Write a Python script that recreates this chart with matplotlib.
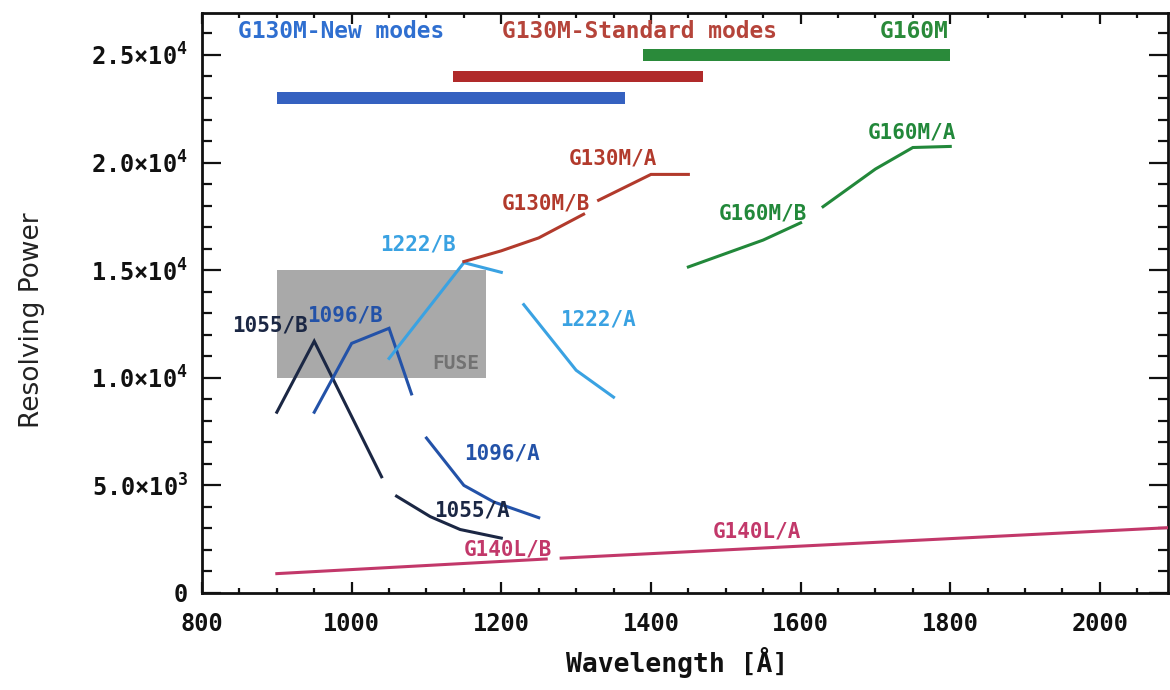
import matplotlib
matplotlib.use("Agg")
import matplotlib.pyplot as plt
from matplotlib.patches import Rectangle
from matplotlib.ticker import MultipleLocator, FuncFormatter

plt.rcParams["mathtext.default"] = "regular"

# Wavelength coverage of the grating families (Angstrom) and the level of each bar
coverage_names = ["G130M-New modes", "G130M-Standard modes", "G160M"]
coverage_start = [900, 1135, 1390]
coverage_end = [1365, 1470, 1800]
coverage_level = [23000, 24000, 25000]

# FUSE reference region
fuse_wl = [900, 1180]
fuse_r = [10000, 15000]

# Resolving power of each central-wavelength setting / segment
wl_1055_b = [900, 950, 1040]
r_1055_b = [8400, 11700, 5400]
wl_1055_a = [1060, 1105, 1145, 1200]
r_1055_a = [4500, 3550, 2950, 2550]
wl_1096_b = [950, 1000, 1050, 1080]
r_1096_b = [8400, 11600, 12300, 9250]
wl_1096_a = [1100, 1150, 1190, 1250]
r_1096_a = [7200, 5000, 4230, 3500]
wl_1222_b = [1050, 1150, 1200]
r_1222_b = [10900, 15350, 14900]
wl_1222_a = [1230, 1300, 1350]
r_1222_a = [13400, 10350, 9100]
wl_g130m_b = [1150, 1200, 1250, 1310]
r_g130m_b = [15400, 15900, 16500, 17600]
wl_g130m_a = [1330, 1400, 1450]
r_g130m_a = [18250, 19450, 19450]
wl_g160m_b = [1450, 1550, 1600]
r_g160m_b = [15150, 16400, 17200]
wl_g160m_a = [1630, 1700, 1750, 1800]
r_g160m_a = [17950, 19700, 20700, 20750]
wl_g140l_b = [900, 1260]
r_g140l_b = [900, 1580]
wl_g140l_a = [1280, 2100]
r_g140l_a = [1620, 3050]

C_NAVY = "#1b2744"
C_BLUE = "#2352a8"
C_LIGHT = "#3aa2e2"
C_RED = "#b23a2c"
C_GREEN = "#22883a"
C_PINK = "#c2386a"

MONO = "DejaVu Sans Mono"

fig = plt.figure(figsize=(11.7, 6.9), dpi=100)
ax = fig.add_axes([202 / 1170, 1 - 593 / 690, (1168 - 202) / 1170, (593 - 13) / 690])

# grating coverage bars
bar_colors = ["#3561c0", "#b02a2a", "#2a8a3a"]
text_colors = ["#2f6fd0", "#b5443a", "#2a8a3a"]
for start, end, level, col in zip(coverage_start, coverage_end, coverage_level, bar_colors):
    ax.barh(level, end - start, left=start, height=540, color=col, zorder=2)
ax.text(848, 26100, coverage_names[0], color=text_colors[0], fontsize=16.5,
        fontweight="bold", family=MONO, ha="left", va="center")
ax.text(1201, 26100, coverage_names[1], color=text_colors[1], fontsize=16.5,
        fontweight="bold", family=MONO, ha="left", va="center")
ax.text(1797, 26100, coverage_names[2], color=text_colors[2], fontsize=16.5,
        fontweight="bold", family=MONO, ha="right", va="center")

# FUSE box
ax.add_patch(Rectangle((fuse_wl[0], fuse_r[0]), fuse_wl[1] - fuse_wl[0],
                       fuse_r[1] - fuse_r[0], facecolor="#a9a9a9",
                       edgecolor="none", zorder=1))
ax.text(1170, 10650, "FUSE", color="#727272", fontsize=14, fontweight="bold",
        family=MONO, ha="right", va="center", zorder=2)

lw = 2.2
curves = [
    (wl_1055_b, r_1055_b, C_NAVY), (wl_1055_a, r_1055_a, C_NAVY),
    (wl_1096_b, r_1096_b, C_BLUE), (wl_1096_a, r_1096_a, C_BLUE),
    (wl_1222_b, r_1222_b, C_LIGHT), (wl_1222_a, r_1222_a, C_LIGHT),
    (wl_g130m_b, r_g130m_b, C_RED), (wl_g130m_a, r_g130m_a, C_RED),
    (wl_g160m_b, r_g160m_b, C_GREEN), (wl_g160m_a, r_g160m_a, C_GREEN),
    (wl_g140l_b, r_g140l_b, C_PINK), (wl_g140l_a, r_g140l_a, C_PINK),
]
for wl, r, col in curves:
    ax.plot(wl, r, color=col, lw=lw, solid_joinstyle="miter", zorder=3)

labels = [
    ("1222/B", 1089, 16170, C_LIGHT),
    ("G130M/A", 1349, 20200, C_RED),
    ("G130M/B", 1260, 18100, C_RED),
    ("G160M/A", 1749, 21400, C_GREEN),
    ("G160M/B", 1550, 17650, C_GREEN),
    ("1222/A", 1329, 12700, C_LIGHT),
    ("1055/B", 891, 12450, C_NAVY),
    ("1096/B", 991, 12900, C_BLUE),
    ("1096/A", 1201, 6500, C_BLUE),
    ("1055/A", 1161, 3850, C_NAVY),
    ("G140L/B", 1209, 2000, C_PINK),
    ("G140L/A", 1542, 2850, C_PINK),
]
for txt, x, y, col in labels:
    ax.text(x, y, txt, color=col, fontsize=15, fontweight="bold", family=MONO,
            ha="center", va="center", zorder=4)

ax.set_xlim(800, 2091)
ax.set_ylim(0, 26950)

ax.xaxis.set_major_locator(MultipleLocator(200))
ax.xaxis.set_minor_locator(MultipleLocator(50))
ax.yaxis.set_major_locator(MultipleLocator(5000))
ax.yaxis.set_minor_locator(MultipleLocator(1000))


def rfmt(v, pos):
    if v == 0:
        return "0"
    exp = 4 if v >= 10000 else 3
    return "%.1f\u00d710$^{%d}$" % (v / 10 ** exp, exp)


ax.yaxis.set_major_formatter(FuncFormatter(rfmt))
ax.xaxis.set_major_formatter(FuncFormatter(lambda v, p: "%d" % v))

ax.tick_params(axis="both", which="both", direction="in", top=True, right=True,
               width=1.6, color="#111111")
ax.tick_params(axis="x", which="major", length=8, pad=14)
ax.tick_params(axis="x", which="minor", length=3.5)
ax.tick_params(axis="y", which="major", length=14, pad=10)
ax.tick_params(axis="y", which="minor", length=7)
for lab in ax.get_xticklabels() + ax.get_yticklabels():
    lab.set_family(MONO)
    lab.set_fontweight("bold")
    lab.set_fontsize(17)
    lab.set_color("#111111")

for sp in ax.spines.values():
    sp.set_linewidth(2.0)
    sp.set_color("#111111")

fig.text(677 / 1170, 1 - 662 / 690, "Wavelength [\u00c5]", family=MONO,
         fontweight="bold", fontsize=19, ha="center", va="center", color="#111111")
fig.text(32 / 1170, 1 - 320 / 690, "Resolving Power", family="DejaVu Sans",
         fontsize=19, rotation=90, ha="center", va="center", color="#222222")

fig.savefig("out.png", dpi=100)
